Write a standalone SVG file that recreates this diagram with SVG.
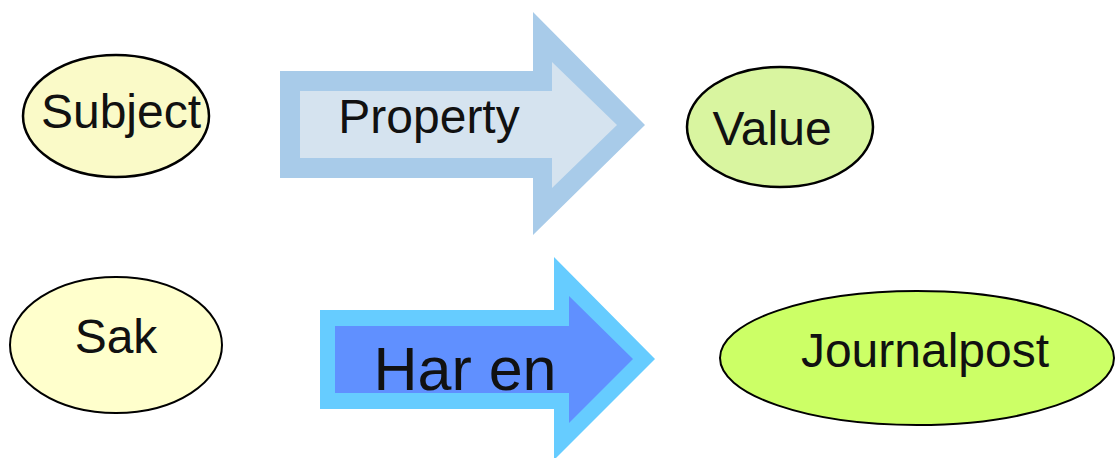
<svg xmlns="http://www.w3.org/2000/svg" width="1116" height="458" viewBox="0 0 1116 458">
<style>
.node ellipse{stroke:#000;stroke-width:2.5}
text{font-family:"Liberation Sans",Arial,sans-serif;text-anchor:middle;fill:#111}
.lbl{font-size:48px}
</style>
<rect width="1116" height="458" fill="#fff"/>
<g id="connectors">
<g id="property">
<polygon points="280,71 533,71 533,12 645,125 533,235 533,178 280,178" fill="#a8cbe9"/>
<polygon points="300,91 552,91 552,62 617,125 552,188 552,158 300,158" fill="#d5e3ef"/>
<text class="lbl" x="429" y="133">Property</text>
</g>
<g id="har-en">
<polygon points="320,310 554,310 554,257 655,359 554,460 554,409 320,409" fill="#66ccff"/>
<polygon points="335,326 569,326 569,296 633,359 569,423 569,393 335,393" fill="#6090ff"/>
<text x="465" y="390" style="font-size:61px" fill="#000">Har en</text>
</g>
</g>
<g id="subject" class="node">
<ellipse cx="116" cy="116" rx="93" ry="61" fill="#fafac8"/>
<text class="lbl" x="121" y="128">Subject</text>
</g>
<g id="value" class="node">
<ellipse cx="780" cy="127" rx="93" ry="60" fill="#d9f5a0"/>
<text class="lbl" x="772" y="145">Value</text>
</g>
<g id="sak" class="node">
<ellipse cx="116" cy="345" rx="106" ry="68" fill="#ffffcc" style="stroke-width:2"/>
<text class="lbl" x="116" y="353">Sak</text>
</g>
<g id="journalpost" class="node">
<ellipse cx="917" cy="358" rx="197" ry="67" fill="#ccff66" style="stroke-width:2"/>
<text class="lbl" x="925" y="367">Journalpost</text>
</g>
</svg>
